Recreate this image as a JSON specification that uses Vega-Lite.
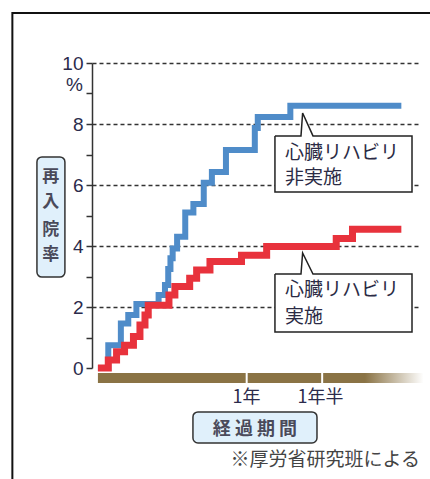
{
  "$schema": "https://vega.github.io/schema/vega-lite/v6.json",
  "width": 328,
  "height": 305,
  "autosize": {"type": "none"},
  "padding": {"left": 92, "top": 63, "right": 10, "bottom": 111},
  "background": "white",
  "config": {"view": {"stroke": null}},
  "datasets": {
    "blue": [
      {"t": 0, "v": 0}, {"t": 0.07, "v": 0.75}, {"t": 0.155, "v": 1.46}, {"t": 0.205, "v": 1.74},
      {"t": 0.26, "v": 2.1}, {"t": 0.41, "v": 2.39}, {"t": 0.453, "v": 2.72}, {"t": 0.475, "v": 3.25},
      {"t": 0.49, "v": 3.6}, {"t": 0.505, "v": 3.92}, {"t": 0.535, "v": 4.3}, {"t": 0.59, "v": 5.1},
      {"t": 0.645, "v": 5.38}, {"t": 0.715, "v": 6.07}, {"t": 0.77, "v": 6.43}, {"t": 0.865, "v": 7.15},
      {"t": 1.06, "v": 7.87}, {"t": 1.08, "v": 8.23}, {"t": 1.3, "v": 8.6}, {"t": 2.05, "v": 8.6}
    ],
    "red": [
      {"t": 0, "v": 0}, {"t": 0.07, "v": 0.26}, {"t": 0.126, "v": 0.53}, {"t": 0.18, "v": 0.75},
      {"t": 0.24, "v": 1.03}, {"t": 0.284, "v": 1.41}, {"t": 0.318, "v": 1.74}, {"t": 0.34, "v": 2.06},
      {"t": 0.48, "v": 2.39}, {"t": 0.52, "v": 2.67}, {"t": 0.62, "v": 2.94}, {"t": 0.667, "v": 3.21},
      {"t": 0.757, "v": 3.49}, {"t": 0.97, "v": 3.7}, {"t": 1.14, "v": 3.98}, {"t": 1.61, "v": 4.25},
      {"t": 1.72, "v": 4.55}, {"t": 2.05, "v": 4.55}
    ],
    "frame": [{"t": -0.578, "t2": 3.5, "v": 11.64, "v2": -6}],
    "boxes": [
      {"t": -0.412, "t2": -0.223, "v": 6.92, "v2": 2.98},
      {"t": 0.642, "t2": 1.48, "v": -1.44, "v2": -2.46}
    ],
    "bar": [{"t": 0, "t2": 2.2, "v": -0.16, "v2": -0.49}],
    "dividers": [{"t": 1.005, "v": -0.1, "v2": -0.55}, {"t": 1.515, "v": -0.1, "v2": -0.55}],
    "callouts": [
      {"c": "A", "i": 0, "t": 1.196, "v": 7.61}, {"c": "A", "i": 1, "t": 1.372, "v": 7.61},
      {"c": "A", "i": 2, "t": 1.383, "v": 8.36}, {"c": "A", "i": 3, "t": 1.453, "v": 7.61},
      {"c": "A", "i": 4, "t": 2.122, "v": 7.61}, {"c": "A", "i": 5, "t": 2.122, "v": 5.77},
      {"c": "A", "i": 6, "t": 1.196, "v": 5.77}, {"c": "A", "i": 7, "t": 1.196, "v": 7.61},
      {"c": "B", "i": 0, "t": 1.196, "v": 3.08}, {"c": "B", "i": 1, "t": 1.372, "v": 3.08},
      {"c": "B", "i": 2, "t": 1.383, "v": 3.77}, {"c": "B", "i": 3, "t": 1.453, "v": 3.08},
      {"c": "B", "i": 4, "t": 2.122, "v": 3.08}, {"c": "B", "i": 5, "t": 2.122, "v": 1.18},
      {"c": "B", "i": 6, "t": 1.196, "v": 1.18}, {"c": "B", "i": 7, "t": 1.196, "v": 3.08}
    ],
    "callouttext": [
      {"t": 1.264, "v": 7.05, "txt": "心臓リハビリ"},
      {"t": 1.264, "v": 6.22, "txt": "非実施"},
      {"t": 1.264, "v": 2.56, "txt": "心臓リハビリ"},
      {"t": 1.264, "v": 1.67, "txt": "実施"}
    ],
    "ytitle": [
      {"t": -0.318, "v": 6.26, "txt": "再"},
      {"t": -0.318, "v": 5.44, "txt": "入"},
      {"t": -0.318, "v": 4.52, "txt": "院"},
      {"t": -0.318, "v": 3.7, "txt": "率"}
    ],
    "xtitle": [{"t": 1.061, "v": -2.03, "txt": "経 過 期 間"}],
    "note": [{"t": 2.176, "v": -3.02, "txt": "※厚労省研究班による"}],
    "pct": [{"t": -0.101, "v": 9.28, "txt": "%"}]
  },
  "encoding": {
    "x": {
      "field": "t", "type": "quantitative",
      "scale": {"domain": [-0.04, 2.176], "nice": false, "zero": false},
      "axis": {
        "title": null, "values": [1, 1.5],
        "labelExpr": "datum.value == 1 ? '1年' : '1年半'",
        "domain": false, "ticks": false, "grid": false,
        "labelPadding": 20, "labelFontSize": 18, "labelColor": "#2b2b4b",
        "labelFont": "Noto Sans CJK JP", "labelFlush": false, "labelOverlap": false
      }
    },
    "y": {
      "field": "v", "type": "quantitative",
      "scale": {"domain": [0, 10], "nice": false, "zero": false},
      "axis": {
        "title": null, "values": [0, 1, 2, 3, 4, 5, 6, 7, 8, 9, 10],
        "labelExpr": "datum.value % 2 == 0 ? datum.label : ''",
        "domainColor": "#333333", "domainWidth": 1.5,
        "tickColor": "#333333", "tickWidth": 1.5, "tickSize": 6,
        "labelPadding": 3, "labelFontSize": 19, "labelColor": "#2b2b4b",
        "labelFont": "Liberation Sans", "labelFlush": false, "labelOverlap": false,
        "grid": true, "gridDash": [4, 3], "gridColor": "#333333", "gridWidth": 1.5,
        "gridOpacity": {"condition": {"test": "datum.value % 2 == 0 && datum.value > 0", "value": 1}, "value": 0}
      }
    }
  },
  "layer": [
    {
      "data": {"name": "frame"},
      "mark": {"type": "rect", "fill": null, "fillOpacity": 0, "stroke": "#111111", "strokeWidth": 2},
      "encoding": {"x2": {"field": "t2"}, "y2": {"field": "v2"}}
    },
    {
      "data": {"name": "boxes"},
      "mark": {"type": "rect", "fill": "#e0f0fb", "stroke": "#333333", "strokeWidth": 1.5, "cornerRadius": 5},
      "encoding": {"x2": {"field": "t2"}, "y2": {"field": "v2"}}
    },
    {
      "data": {"name": "bar"},
      "mark": {
        "type": "rect",
        "fill": {
          "x1": 0, "y1": 0, "x2": 1, "y2": 0, "gradient": "linear",
          "stops": [
            {"offset": 0, "color": "#8a7345"},
            {"offset": 0.82, "color": "#8a7345"},
            {"offset": 1, "color": "#ffffff"}
          ]
        }
      },
      "encoding": {"x2": {"field": "t2"}, "y2": {"field": "v2"}}
    },
    {
      "data": {"name": "dividers"},
      "mark": {"type": "rule", "color": "white", "strokeWidth": 2},
      "encoding": {"y2": {"field": "v2"}}
    },
    {
      "data": {"name": "blue"},
      "mark": {"type": "line", "interpolate": "step-after", "color": "#4f8cc9", "strokeWidth": 6, "strokeJoin": "miter", "strokeCap": "butt"},
      "encoding": {}
    },
    {
      "data": {"name": "red"},
      "mark": {"type": "line", "interpolate": "step-after", "color": "#e8323c", "strokeWidth": 7, "strokeJoin": "miter", "strokeCap": "butt"},
      "encoding": {}
    },
    {
      "data": {"name": "callouts"},
      "mark": {"type": "line", "stroke": "#222222", "fill": "white", "strokeWidth": 1.5, "strokeJoin": "miter"},
      "encoding": {"detail": {"field": "c"}, "order": {"field": "i", "type": "quantitative"}}
    },
    {
      "data": {"name": "callouttext"},
      "mark": {"type": "text", "align": "left", "baseline": "middle", "font": "Noto Sans CJK JP", "fontSize": 19, "color": "#2b2b45"},
      "encoding": {"text": {"field": "txt"}}
    },
    {
      "data": {"name": "ytitle"},
      "mark": {"type": "text", "align": "center", "baseline": "middle", "font": "Noto Sans CJK JP", "fontSize": 17, "fontWeight": "bold", "color": "#4a4a5a"},
      "encoding": {"text": {"field": "txt"}}
    },
    {
      "data": {"name": "xtitle"},
      "mark": {"type": "text", "align": "center", "baseline": "middle", "font": "Noto Sans CJK JP", "fontSize": 18, "fontWeight": "bold", "color": "#4a4a5a"},
      "encoding": {"text": {"field": "txt"}}
    },
    {
      "data": {"name": "note"},
      "mark": {"type": "text", "align": "right", "baseline": "middle", "font": "Noto Sans CJK JP", "fontSize": 19, "color": "#444444"},
      "encoding": {"text": {"field": "txt"}}
    },
    {
      "data": {"name": "pct"},
      "mark": {"type": "text", "align": "right", "baseline": "middle", "font": "Liberation Sans", "fontSize": 19, "color": "#2b2b4b"},
      "encoding": {"text": {"field": "txt"}}
    }
  ]
}
